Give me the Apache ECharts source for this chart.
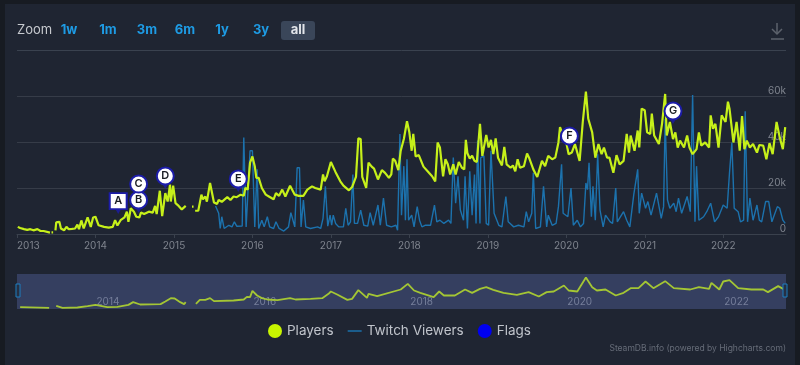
<!DOCTYPE html>
<html>
<head>
<meta charset="utf-8">
<style>html,body{margin:0;padding:0;background:#171b22}#c{width:800px;height:365px}</style>
<script src="https://cdn.jsdelivr.net/npm/echarts@6/dist/echarts.min.js"></script>
</head>
<body>
<div id="c"></div>
<script>
// [decimal year, thousands]
const players2013 = [[2013.01,3.1],[2013.04,2.6],[2013.09,2.1],[2013.13,1.8],[2013.17,2.1],[2013.21,1.6],[2013.26,2.1],[2013.30,1.3],[2013.34,1.3],[2013.42,0.6],[2013.43,null],[2013.44,0.7],[2013.46,0.7],[2013.47,null],[2013.49,1.6],[2013.50,5.1],[2013.52,4.3],[2013.54,5.3],[2013.56,2.4],[2013.60,1.6],[2013.63,3.1],[2013.66,2.1],[2013.70,2.2],[2013.74,2.4],[2013.77,4.1],[2013.79,2.1],[2013.82,5.9],[2013.85,2.4],[2013.90,7.2],[2013.94,3.1],[2013.97,7.2]];
const players2014 = [[2014.00,7.5],[2014.04,3.8],[2014.11,3.1],[2014.17,2.8],[2014.22,3.1],[2014.25,6.0],[2014.28,3.7],[2014.32,6.0],[2014.34,6.3],[2014.37,7.2],[2014.40,9.7],[2014.42,5.3],[2014.45,11.2],[2014.49,9.7],[2014.52,7.5],[2014.56,7.2],[2014.58,9.3],[2014.62,8.7],[2014.68,9.7],[2014.73,9.3],[2014.76,12.2],[2014.78,8.7],[2014.82,18.8],[2014.85,7.8],[2014.89,17.8],[2014.92,14.1],[2014.95,21.5],[2014.96,14.1],[2014.99,21.0]];
const players2015 = [[2015.02,13.4],[2015.06,12.2],[2015.10,10.7],[2015.15,12.2],[2015.19,null],[2015.23,11.9],[2015.25,11.9],[2015.26,null],[2015.27,10.1],[2015.31,10.1],[2015.35,17.1],[2015.37,15.1],[2015.40,16.3],[2015.42,14.1],[2015.46,22.2],[2015.48,21.9],[2015.51,13.7],[2015.55,13.1],[2015.57,14.8],[2015.61,14.0],[2015.68,16.0],[2015.72,14.8],[2015.76,16.3],[2015.80,16.0],[2015.85,17.1],[2015.89,16.6],[2015.91,20.0],[2015.94,19.3],[2015.97,31.0]];
const players2016 = [[2016.00,33.7],[2016.03,29.5],[2016.05,24.4],[2016.08,24.4],[2016.12,20.0],[2016.17,17.1],[2016.21,16.3],[2016.23,16.6],[2016.27,15.1],[2016.30,17.8],[2016.34,16.6],[2016.38,19.3],[2016.42,16.3],[2016.48,21.0],[2016.54,17.1],[2016.59,16.6],[2016.65,16.6],[2016.70,19.3],[2016.76,20.7],[2016.80,20.0],[2016.87,19.3],[2016.90,25.9],[2016.92,22.9],[2016.95,25.1]];
const players2017 = [[2017.00,31.3],[2017.02,31.3],[2017.06,26.9],[2017.12,22.9],[2017.16,21.0],[2017.23,19.0],[2017.27,20.4],[2017.32,24.8],[2017.35,41.6],[2017.38,41.3],[2017.40,24.8],[2017.45,20.0],[2017.48,31.0],[2017.52,29.3],[2017.55,28.4],[2017.60,23.7],[2017.65,27.8],[2017.69,26.6],[2017.74,24.4],[2017.77,25.9],[2017.79,32.8],[2017.82,31.8],[2017.86,27.8],[2017.89,36.2],[2017.93,41.3],[2017.97,49.0]];
const players2018 = [[2018.00,44.2],[2018.03,36.2],[2018.05,43.5],[2018.08,33.7],[2018.12,34.3],[2018.18,29.3],[2018.25,26.6],[2018.29,25.1],[2018.33,22.9],[2018.36,39.8],[2018.39,37.6],[2018.43,25.1],[2018.46,32.5],[2018.49,30.3],[2018.52,25.9],[2018.56,30.3],[2018.59,25.9],[2018.63,31.3],[2018.67,28.8],[2018.70,28.1],[2018.72,40.9],[2018.74,35.1],[2018.77,32.8],[2018.80,34.0],[2018.83,31.8],[2018.86,31.3],[2018.90,47.9],[2018.93,34.0],[2018.98,43.1]];
const players2019 = [[2019.01,37.6],[2019.04,40.9],[2019.07,34.7],[2019.10,41.6],[2019.13,33.2],[2019.18,29.8],[2019.21,37.9],[2019.24,30.3],[2019.29,28.8],[2019.32,29.8],[2019.35,27.3],[2019.38,32.5],[2019.41,28.8],[2019.46,29.5],[2019.50,35.0],[2019.53,32.8],[2019.58,28.1],[2019.63,24.8],[2019.69,31.8],[2019.73,29.5],[2019.77,34.0],[2019.82,32.5],[2019.86,33.2],[2019.90,39.8],[2019.92,46.5],[2019.96,42.8]];
const players2020 = [[2020.00,39.8],[2020.03,34.7],[2020.07,35.4],[2020.11,39.1],[2020.17,31.8],[2020.21,48.7],[2020.25,61.9],[2020.28,50.1],[2020.33,44.2],[2020.37,33.2],[2020.41,39.1],[2020.45,34.7],[2020.48,37.6],[2020.52,33.2],[2020.55,33.2],[2020.60,26.6],[2020.64,34.3],[2020.68,30.3],[2020.73,31.8],[2020.77,43.5],[2020.80,35.4],[2020.82,42.8],[2020.87,36.2],[2020.91,45.0],[2020.93,37.6],[2020.96,54.5]];
const players2021 = [[2021.00,53.8],[2021.03,44.2],[2021.07,43.5],[2021.09,52.3],[2021.12,42.8],[2021.18,39.1],[2021.22,47.9],[2021.26,60.9],[2021.28,42.8],[2021.32,48.7],[2021.36,41.3],[2021.39,44.2],[2021.42,37.6],[2021.45,40.6],[2021.50,37.6],[2021.54,42.8],[2021.57,37.6],[2021.61,34.7],[2021.66,36.9],[2021.69,44.2],[2021.72,38.4],[2021.77,39.8],[2021.82,37.6],[2021.84,51.6],[2021.87,45.7],[2021.90,47.9],[2021.94,37.6],[2021.98,51.6]];
const players2022 = [[2022.03,48.7],[2022.06,57.5],[2022.08,54.5],[2022.13,39.8],[2022.17,48.7],[2022.21,36.2],[2022.24,51.3],[2022.27,36.9],[2022.30,40.6],[2022.34,37.6],[2022.38,39.1],[2022.43,35.4],[2022.46,38.7],[2022.51,38.4],[2022.55,32.5],[2022.59,39.5],[2022.63,34.7],[2022.68,48.7],[2022.72,42.0],[2022.76,36.9],[2022.79,46.5]];

const twitch2015 = [[2015.53,12.2],[2015.57,9.0],[2015.59,2.4],[2015.61,7.5],[2015.64,2.4],[2015.70,3.8],[2015.74,3.1],[2015.77,5.3],[2015.80,3.4],[2015.87,3.5],[2015.89,42.0],[2015.92,3.1],[2015.94,3.1],[2015.97,36.2]];
const twitch2016 = [[2016.00,36.2],[2016.03,3.1],[2016.06,28.1],[2016.08,2.4],[2016.12,6.0],[2016.15,3.1],[2016.19,7.5],[2016.22,3.1],[2016.27,2.4],[2016.30,5.3],[2016.34,2.4],[2016.40,1.3],[2016.46,3.1],[2016.49,9.3],[2016.54,3.1],[2016.57,28.8],[2016.60,28.8],[2016.62,3.1],[2016.65,14.8],[2016.68,3.1],[2016.74,2.4],[2016.83,3.1],[2016.87,2.4],[2016.90,6.8],[2016.93,20.7],[2016.96,3.4],[2016.99,8.2]];
const twitch2017 = [[2017.01,3.8],[2017.03,8.2],[2017.06,4.6],[2017.10,3.1],[2017.16,3.1],[2017.19,11.2],[2017.22,3.8],[2017.25,5.3],[2017.28,25.9],[2017.30,4.6],[2017.34,4.6],[2017.38,10.4],[2017.42,3.8],[2017.47,3.4],[2017.50,9.3],[2017.54,3.8],[2017.60,12.6],[2017.63,3.8],[2017.67,15.6],[2017.71,3.8],[2017.77,3.1],[2017.83,3.8],[2017.85,1.6],[2017.88,43.5],[2017.90,8.2],[2017.93,29.5],[2017.95,6.0],[2017.97,32.5],[2017.99,6.0]];
const twitch2018 = [[2018.03,8.2],[2018.06,3.1],[2018.10,11.9],[2018.13,6.0],[2018.16,3.1],[2018.20,3.8],[2018.27,3.8],[2018.32,12.6],[2018.35,5.3],[2018.39,6.0],[2018.44,4.6],[2018.50,6.0],[2018.53,4.6],[2018.56,33.2],[2018.59,13.4],[2018.62,25.1],[2018.65,10.4],[2018.69,6.0],[2018.71,25.1],[2018.74,2.4],[2018.77,27.3],[2018.80,8.2],[2018.83,25.9],[2018.85,4.6],[2018.87,40.6],[2018.90,4.6],[2018.91,33.2],[2018.95,34.0],[2018.98,4.6]];
const twitch2019 = [[2019.01,3.8],[2019.04,36.2],[2019.08,9.0],[2019.14,3.8],[2019.18,3.1],[2019.23,16.3],[2019.26,5.3],[2019.33,3.1],[2019.39,3.8],[2019.46,3.1],[2019.49,9.7],[2019.52,5.3],[2019.56,9.0],[2019.58,26.6],[2019.61,2.4],[2019.67,3.1],[2019.71,20.7],[2019.75,3.1],[2019.77,8.2],[2019.82,3.8],[2019.87,4.6],[2019.90,11.9],[2019.94,30.3],[2019.96,9.0]];
const twitch2020 = [[2020.02,7.5],[2020.06,20.0],[2020.09,3.8],[2020.14,6.0],[2020.18,3.1],[2020.22,4.6],[2020.25,22.2],[2020.27,19.3],[2020.29,31.0],[2020.32,7.5],[2020.34,20.7],[2020.37,6.0],[2020.40,34.7],[2020.43,10.4],[2020.47,3.1],[2020.50,8.2],[2020.56,5.3],[2020.59,4.6],[2020.63,20.0],[2020.65,5.3],[2020.73,9.7],[2020.77,6.0],[2020.81,3.1],[2020.86,17.1],[2020.91,28.1],[2020.93,9.0],[2020.96,17.8]];
const twitch2021 = [[2021.01,11.2],[2021.04,14.1],[2021.08,8.2],[2021.15,17.8],[2021.21,6.8],[2021.24,11.9],[2021.26,50.1],[2021.29,14.8],[2021.32,11.2],[2021.37,13.4],[2021.40,9.7],[2021.43,15.6],[2021.47,9.0],[2021.54,16.3],[2021.58,9.7],[2021.61,60.4],[2021.64,5.3],[2021.66,29.5],[2021.69,6.0],[2021.75,7.5],[2021.79,9.7],[2021.84,13.4],[2021.89,5.3],[2021.94,7.5]];
const twitch2022 = [[2022.00,12.6],[2022.05,11.2],[2022.08,26.6],[2022.11,39.8],[2022.14,11.2],[2022.19,9.7],[2022.22,5.3],[2022.26,6.0],[2022.28,53.4],[2022.31,5.3],[2022.34,15.6],[2022.38,6.0],[2022.43,12.6],[2022.46,6.0],[2022.49,5.3],[2022.54,14.1],[2022.58,14.1],[2022.62,5.3],[2022.69,11.9],[2022.72,11.2],[2022.76,6.0],[2022.79,4.6]];

const navigatorPlayers = [[2013.04,3.7],[2013.41,2.3],[2013.45,null],[2013.50,6.3],[2013.58,2.3],[2013.77,3.0],[2013.90,5.7],[2014.00,8.3],[2014.15,3.7],[2014.28,4.3],[2014.42,8.3],[2014.48,13.7],[2014.57,9.0],[2014.83,9.7],[2014.89,15.0],[2014.96,21.7],[2015.01,21.0],[2015.08,13.7],[2015.13,9.7],[2015.15,13.7],[2015.21,null],[2015.28,10.3],[2015.33,18.3],[2015.40,18.3],[2015.46,21.7],[2015.51,15.7],[2015.76,17.0],[2015.89,19.0],[2015.93,24.3],[2015.97,23.7],[2016.00,36.3],[2016.06,27],[2016.12,21.7],[2016.19,19],[2016.32,17.7],[2016.48,21.7],[2016.55,19],[2016.74,20.3],[2016.89,21.7],[2016.97,30.3],[2017.00,35],[2017.08,29],[2017.21,18.3],[2017.27,20.3],[2017.35,37.7],[2017.46,22.3],[2017.48,30.3],[2017.59,25.7],[2017.89,39],[2017.98,50.3],[2018.06,37],[2018.14,32.3],[2018.31,23.7],[2018.38,35],[2018.44,27],[2018.58,27],[2018.71,39],[2018.80,32.3],[2018.90,40.3],[2018.98,43.7],[2019.07,38.3],[2019.20,32.3],[2019.37,28.3],[2019.52,33.7],[2019.65,25],[2019.75,33.7],[2019.84,35],[2019.97,47],[2020.03,37],[2020.14,35],[2020.25,63],[2020.33,43.7],[2020.39,37],[2020.50,39],[2020.63,27],[2020.73,32.3],[2020.82,41.7],[2020.92,41.7],[2021.01,55],[2021.11,41.7],[2021.26,55.7],[2021.37,41.7],[2021.58,39],[2021.69,43.7],[2021.82,40.3],[2021.85,52.3],[2021.95,39],[2022.00,55],[2022.08,57.7],[2022.19,41.7],[2022.36,39],[2022.51,39],[2022.57,33.7],[2022.70,45.7],[2022.80,37]];

const flags = [['A',2014.29,14.3,'rect'],['B',2014.55,14.8,'circle'],['C',2014.55,21.7,'circle'],['D',2014.89,25.2,'circle'],['E',2015.82,23.9,'circle'],['F',2020.04,42.6,'circle'],['G',2021.36,53.5,'circle']];
const yTicks = [0,20,40,60];
const yearTicks = [2013,2014,2015,2016,2017,2018,2019,2020,2021,2022];
const navYearTicks = [2014,2016,2018,2020,2022];
const zoomLabels = ['1w','1m','3m','6m','1y','3y','all'];
const zoomCentres = [69,108,147,185,222,261,298];

const FONT = 'Inter, "Noto Sans", sans-serif';
const players = [].concat(players2013,players2014,players2015,players2016,players2017,players2018,players2019,players2020,players2021,players2022);
const twitch = [].concat(twitch2015,twitch2016,twitch2017,twitch2018,twitch2019,twitch2020,twitch2021,twitch2022);
const xMin = 2013, xMax = 2022.80;

const flagData = flags.map(f => ({
  value:[f[1],f[2]], symbol:f[3], symbolSize:f[3]==='rect'?[17,16]:17,
  label:{show:true,formatter:f[0],position:'inside',color:'#1a1d24',fontSize:11,fontWeight:600,fontFamily:FONT}
}));
const graphics = [
  {type:'rect',z:-10,silent:true,shape:{x:5,y:4,width:790,height:361},style:{fill:'#1f2532'}},
  {type:'line',z:1,silent:true,shape:{x1:17,y1:50.5,x2:786,y2:50.5},style:{stroke:'#3a424f',lineWidth:1}},
  {type:'text',left:17,top:24,style:{text:'Zoom',fill:'#c6c9ce',font:'13px '+FONT}},
  {type:'rect',z:1,silent:true,shape:{x:281,y:21,width:34,height:19,r:3},style:{fill:'#3a4659'}},
  {type:'line',silent:true,shape:{x1:777,y1:23,x2:777,y2:33},style:{stroke:'#5c626c',lineWidth:1.5}},
  {type:'polyline',silent:true,shape:{points:[[772,29],[777,34],[782,29]]},style:{stroke:'#5c626c',lineWidth:1.5,fill:'none'}},
  {type:'line',silent:true,shape:{x1:771,y1:39,x2:784,y2:39},style:{stroke:'#5c626c',lineWidth:1.5}},
  {type:'rect',z:20,silent:true,shape:{x:16,y:284,width:4,height:13},style:{fill:'#263044',stroke:'#1c7fc0',lineWidth:1}},
  {type:'rect',z:20,silent:true,shape:{x:783,y:284,width:4,height:13},style:{fill:'#263044',stroke:'#1c7fc0',lineWidth:1}},
  {type:'text',right:14,top:344,style:{text:'SteamDB.info (powered by Highcharts.com)',fill:'#666c78',font:'8.5px '+FONT}}
];
zoomLabels.forEach((t,i)=>graphics.push({type:'text',z:3,x:zoomCentres[i],y:30,style:{text:t,align:'center',verticalAlign:'middle',fill:t==='all'?'#e2e5ea':'#1e9be4',font:'700 13px '+FONT}}));

const chart = echarts.init(document.getElementById('c'),null,{renderer:'canvas'});
chart.setOption({
  animation:false,
  backgroundColor:'#171b22',
  graphic:graphics,
  grid:[
    {left:17,right:14,top:96,bottom:131},
    {left:17,right:14,top:274,height:35,show:true,backgroundColor:'#353f60',borderWidth:0}
  ],
  legend:{
    left:263,top:319,itemWidth:14,itemHeight:14,itemGap:14,
    textStyle:{color:'#c0c4cb',fontSize:13.5,fontFamily:FONT},
    selectedMode:false,
    data:[
      {name:'Players',icon:'circle',itemStyle:{color:'#c8f500'}},
      {name:'Twitch Viewers',icon:'path://M0 0h0v14h0zM0 6h14v2H0z',itemStyle:{color:'#1b5d8c'}},
      {name:'Flags',icon:'circle',itemStyle:{color:'#0000f0',borderWidth:0}}
    ]
  },
  xAxis:[
    {type:'value',gridIndex:0,min:xMin,max:xMax,
      axisLine:{show:true,onZero:false,lineStyle:{color:'#3a414d'}},
      axisTick:{show:true,length:4,lineStyle:{color:'#3a414d'},customValues:yearTicks},
      axisLabel:{customValues:yearTicks,alignMinLabel:'left',color:'#7f848e',fontSize:10,margin:7,fontFamily:FONT,
        formatter:v=>String(v)},
      splitLine:{show:false}},
    {type:'value',gridIndex:1,min:xMin,max:xMax,
      axisLine:{show:false},
      axisTick:{show:false,customValues:navYearTicks},
      axisLabel:{customValues:navYearTicks,inside:true,align:'left',padding:[0,0,0,1],margin:2,color:'#757e9a',fontSize:10,fontFamily:FONT,
        formatter:v=>String(v)},
      splitLine:{show:false}}
  ],
  yAxis:[
    {type:'value',gridIndex:0,position:'right',min:0,max:60,interval:20,
      axisLine:{show:false},axisTick:{show:false},
      splitLine:{lineStyle:{color:'#363c48'}},
      axisLabel:{inside:true,margin:0,align:'right',verticalAlign:'bottom',lineHeight:10,padding:0,color:'#7f848e',fontSize:10,fontFamily:FONT,
        formatter:v=>yTicks.includes(v)?(v===0?'0':v+'k'):''}},
    {type:'value',gridIndex:1,min:0,max:70,show:false,splitLine:{show:false}}
  ],
  series:[
    {name:'Twitch Viewers',type:'line',xAxisIndex:0,yAxisIndex:0,data:twitch,showSymbol:false,clip:false,z:3,
      lineStyle:{color:'#1c72ad',width:1.4},itemStyle:{color:'#1c72ad'}},
    {name:'Players',type:'line',xAxisIndex:0,yAxisIndex:0,data:players,showSymbol:false,clip:false,z:4,connectNulls:false,
      lineStyle:{color:'#c6f01a',width:2.2},itemStyle:{color:'#c6f01a'}},
    {name:'Flag tails',type:'scatter',xAxisIndex:0,yAxisIndex:0,data:flagData.map(d=>d.value),symbol:'triangle',symbolRotate:180,symbolSize:[7,6],symbolOffset:[0,10],clip:false,z:5,
      itemStyle:{color:'#1c1ca8'}},
    {name:'Flags',type:'scatter',xAxisIndex:0,yAxisIndex:0,data:flagData,clip:false,z:6,
      itemStyle:{color:'#ffffff',borderColor:'#1c1ca8',borderWidth:2,opacity:1}},
    {name:'Navigator',type:'line',xAxisIndex:1,yAxisIndex:1,data:navigatorPlayers,showSymbol:false,z:4,
      lineStyle:{color:'#a4c634',width:1.8},itemStyle:{color:'#a4c634'}}
  ]
});
</script>
</body>
</html>
